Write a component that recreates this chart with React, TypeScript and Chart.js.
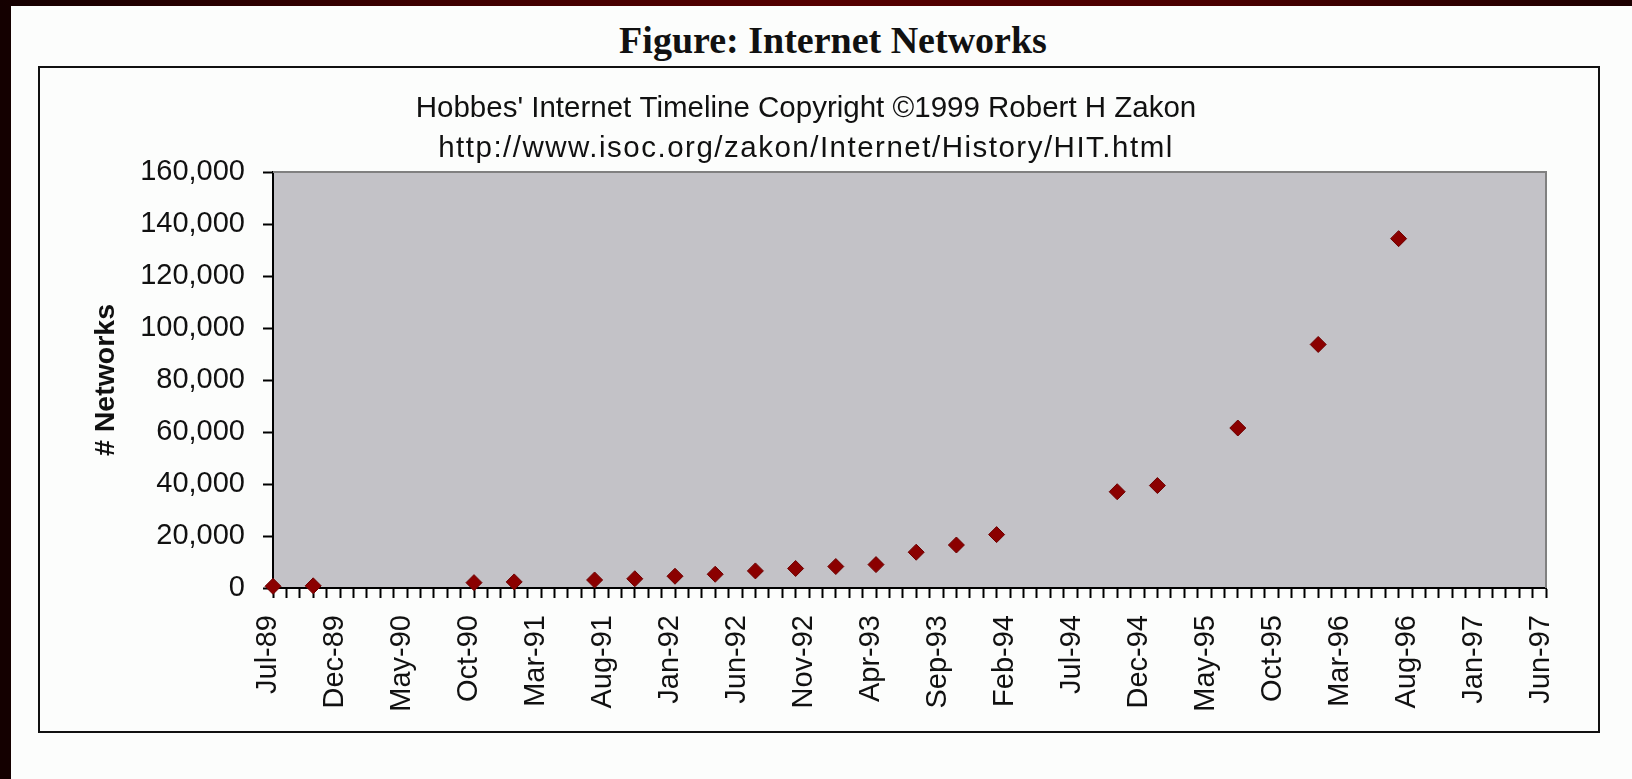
import React, { useEffect, useRef } from 'react';
import { Chart, registerables } from 'chart.js';

Chart.register(...registerables);

// ---------- data ----------
const pointDates = [
  'Jul-89', 'Oct-89', 'Oct-90', 'Jan-91', 'Jul-91', 'Oct-91', 'Jan-92', 'Apr-92', 'Jul-92', 'Oct-92',
  'Jan-93', 'Apr-93', 'Jul-93', 'Oct-93', 'Jan-94', 'Oct-94', 'Jan-95', 'Jul-95', 'Jan-96', 'Jul-96',
];
const networkCounts = [
  650, 837, 2063, 2338, 3086, 3556, 4526, 5291, 6569, 7505,
  8258, 9000, 13767, 16533, 20539, 37022, 39410, 61538, 93671, 134365,
];
const xTickLabels = [
  'Jul-89', 'Dec-89', 'May-90', 'Oct-90', 'Mar-91', 'Aug-91', 'Jan-92', 'Jun-92', 'Nov-92', 'Apr-93',
  'Sep-93', 'Feb-94', 'Jul-94', 'Dec-94', 'May-95', 'Oct-95', 'Mar-96', 'Aug-96', 'Jan-97', 'Jun-97',
];
const yMin = 0;
const yMax = 160000;
const yStep = 20000;

const pageTitle = 'Figure: Internet Networks';
const subtitleLines = [
  "Hobbes' Internet Timeline Copyright \u00A91999 Robert H Zakon",
  'http://www.isoc.org/zakon/Internet/History/HIT.html',
];
const yAxisTitle = '# Networks';

const MONTHS = ['Jan', 'Feb', 'Mar', 'Apr', 'May', 'Jun', 'Jul', 'Aug', 'Sep', 'Oct', 'Nov', 'Dec'];
function monthIndex(label: string): number {
  const [m, y] = label.split('-');
  return (Number(y) - 89) * 12 + MONTHS.indexOf(m) - 6;
}

const FONT = "'Liberation Sans', Arial, sans-serif";
const TEXT = '#111111';

// canvas placement inside the framed box (page coords)
const CANVAS_LEFT = 40;
const CANVAS_TOP = 68;
const CANVAS_W = 1558;
const CANVAS_H = 663;

export default function App() {
  const ref = useRef<HTMLCanvasElement | null>(null);

  useEffect(() => {
    document.body.style.margin = '0';
    const canvas = ref.current;
    if (!canvas) return;

    const decor = {
      id: 'decor',
      beforeDraw(chart: any) {
        const { ctx, chartArea } = chart;
        ctx.save();
        ctx.fillStyle = '#c3c2c7';
        ctx.fillRect(chartArea.left, chartArea.top, chartArea.right - chartArea.left, chartArea.bottom - chartArea.top);
        ctx.restore();
      },
      afterDraw(chart: any) {
        const { ctx, chartArea } = chart;
        ctx.save();
        ctx.strokeStyle = '#808080';
        ctx.lineWidth = 2;
        ctx.beginPath();
        ctx.moveTo(chartArea.left, chartArea.top);
        ctx.lineTo(chartArea.right, chartArea.top);
        ctx.lineTo(chartArea.right, chartArea.bottom);
        ctx.stroke();
        ctx.fillStyle = TEXT;
        ctx.font = `29.5px ${FONT}`;
        ctx.textAlign = 'center';
        ctx.textBaseline = 'alphabetic';
        const cx = 806 - CANVAS_LEFT;
        const spacings = ['0px', '1.5px'];
        subtitleLines.forEach((line, i) => {
          (ctx as any).letterSpacing = spacings[i] || '0px';
          ctx.fillText(line, cx, 49 + i * 40);
        });
        (ctx as any).letterSpacing = '0px';
        ctx.restore();
      },
    };

    const xMax = monthIndex(xTickLabels[xTickLabels.length - 1]);

    const chart = new Chart(canvas, {
      type: 'scatter',
      data: {
        datasets: [
          {
            label: 'Networks',
            data: pointDates.map((d, i) => ({ x: monthIndex(d), y: networkCounts[i] })),
            pointStyle: 'rectRot',
            pointRadius: 8,
            backgroundColor: '#8b0000',
            borderColor: '#6e0000',
            borderWidth: 1,
            showLine: false,
            clip: false,
          } as any,
        ],
      },
      options: {
        animation: false,
        responsive: false,
        events: [],
        layout: { padding: { top: 104, right: 52, left: 0, bottom: 0 } },
        plugins: {
          legend: { display: false },
          tooltip: { enabled: false },
          title: { display: false },
        },
        scales: {
          x: {
            type: 'linear',
            min: 0,
            max: xMax,
            afterFit: (s: any) => {
              s.height = CANVAS_H - 520;
            },
            grid: {
              drawOnChartArea: false,
              drawTicks: true,
              tickLength: 10,
              tickWidth: 2,
              tickColor: '#000',
              color: '#000',
            },
            border: { display: true, color: '#000', width: 2 },
            ticks: {
              stepSize: 1,
              autoSkip: false,
              minRotation: 90,
              maxRotation: 90,
              padding: 17,
              labelOffset: -5,
              color: TEXT,
              font: { family: FONT, size: 29 },
              callback: (v: any) => {
                const k = xTickLabels.findIndex((l) => monthIndex(l) === Number(v));
                return k >= 0 ? xTickLabels[k] : '';
              },
            },
          },
          y: {
            type: 'linear',
            min: yMin,
            max: yMax,
            afterFit: (s: any) => {
              s.width = 273 - CANVAS_LEFT;
            },
            grid: {
              drawOnChartArea: false,
              drawTicks: true,
              tickLength: 10,
              tickWidth: 2,
              tickColor: '#000',
              color: '#000',
            },
            border: { display: true, color: '#000', width: 2 },
            ticks: {
              stepSize: yStep,
              padding: 18,
              color: TEXT,
              font: { family: FONT, size: 29 },
              callback: (v: any) => Number(v).toLocaleString('en-US'),
            },
            title: {
              display: true,
              text: yAxisTitle,
              color: TEXT,
              font: { family: FONT, size: 28.5, weight: 'bold' },
              padding: { top: 49, bottom: 0 },
            },
          },
        },
      } as any,
      plugins: [decor],
    });

    return () => chart.destroy();
  }, []);

  return (
    <div style={{ position: 'fixed', left: 0, top: 0, width: 1632, height: 779, background: '#fcfdfc', overflow: 'hidden' }}>
      <div style={{ position: 'absolute', left: 0, top: 0, width: 11, height: 779, background: '#140000' }} />
      <div
        style={{
          position: 'absolute',
          left: 0,
          top: 0,
          width: 1632,
          height: 6,
          background: 'linear-gradient(to right, #140000 0%, #3c0000 25%, #550000 50%, #4a0000 75%, #1c0000 100%)',
        }}
      />
      <div
        style={{
          position: 'absolute',
          left: 433,
          top: 21,
          width: 800,
          textAlign: 'center',
          fontFamily: "'Liberation Serif', 'Times New Roman', serif",
          fontWeight: 'bold',
          fontSize: 38,
          lineHeight: '38px',
          color: '#111',
          whiteSpace: 'nowrap',
        }}
      >
        {pageTitle}
      </div>
      <div
        style={{
          position: 'absolute',
          left: 38,
          top: 66,
          width: 1562,
          height: 667,
          border: '2px solid #111',
          boxSizing: 'border-box',
        }}
      />
      <canvas
        ref={ref}
        width={CANVAS_W}
        height={CANVAS_H}
        style={{ position: 'absolute', left: CANVAS_LEFT, top: CANVAS_TOP, width: CANVAS_W, height: CANVAS_H, display: 'block' }}
      />
    </div>
  );
}
